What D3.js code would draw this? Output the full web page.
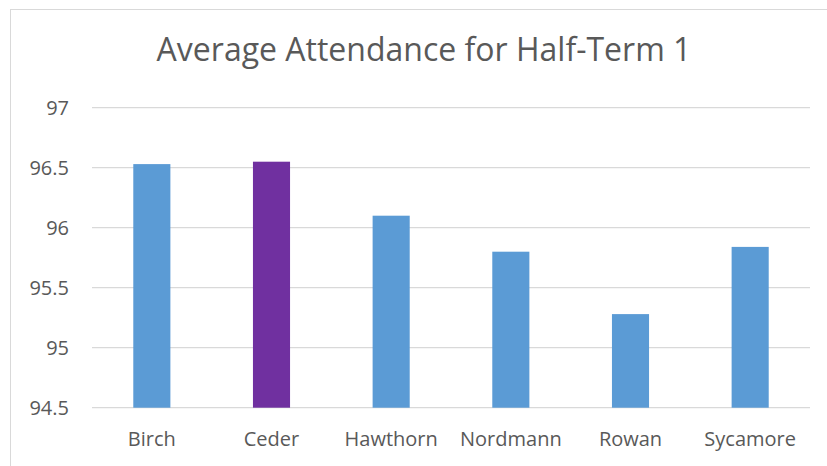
<!DOCTYPE html>
<html>
<head>
<meta charset="utf-8">
<script src="https://cdn.jsdelivr.net/npm/d3@7"></script>
<style>
  body { margin: 0; background: #fff; }
  text { font-family: "Open Sans", "Noto Sans", sans-serif; fill: #595959; }
</style>
</head>
<body>
<script>
// chart data
var categories = ["Birch", "Ceder", "Hawthorn", "Nordmann", "Rowan", "Sycamore"];
var attendance = [96.53, 96.55, 96.1, 95.8, 95.28, 95.84];
var highlighted = ["Ceder"];
var yTicks = [94.5, 95, 95.5, 96, 96.5, 97];
var title = "Average Attendance for Half-Term 1";

var width = 827,
    height = 466;

var svg = d3.select("body").append("svg")
    .attr("width", width)
    .attr("height", height)
    .style("display", "block");

// chart frame, runs off the right and bottom edge
svg.append("rect")
    .attr("x", 10.5)
    .attr("y", 9.5)
    .attr("width", 840)
    .attr("height", 480)
    .attr("fill", "#fff")
    .attr("stroke", "#d9d9d9")
    .attr("stroke-width", 1);

var plotLeft = 92, plotRight = 810, plotTop = 107.7, plotBottom = 407.7;

var x = d3.scaleBand()
    .domain(categories)
    .range([plotLeft, plotRight])
    .paddingInner(0.69)
    .paddingOuter(0.345);

var y = d3.scaleLinear()
    .domain([94.5, 97])
    .range([plotBottom, plotTop]);

svg.append("text")
    .attr("x", 424)
    .attr("y", 61)
    .attr("text-anchor", "middle")
    .style("font-size", "32px")
    .text(title);

// gridlines
svg.append("g")
    .selectAll("line")
    .data(yTicks)
    .enter().append("line")
    .attr("x1", plotLeft)
    .attr("x2", plotRight)
    .attr("y1", function(d) { return y(d); })
    .attr("y2", function(d) { return y(d); })
    .attr("stroke", "#d9d9d9")
    .attr("stroke-width", 1.3);

var rows = categories.map(function(c, i) { return {name: c, value: attendance[i]}; });

svg.append("g")
    .selectAll("rect")
    .data(rows)
    .enter().append("rect")
    .attr("x", function(d) { return x(d.name); })
    .attr("width", x.bandwidth())
    .attr("y", function(d) { return y(d.value); })
    .attr("height", function(d) { return y(94.5) - y(d.value); })
    .attr("fill", function(d) {
        return highlighted.indexOf(d.name) >= 0 ? "#7030a0" : "#5b9bd5";
    });

// y labels
var yAxis = svg.append("g")
    .attr("transform", "translate(69,0)")
    .call(d3.axisLeft(y).tickValues(yTicks).tickSize(0).tickPadding(0).tickFormat(d3.format("")));
yAxis.select(".domain").remove();
yAxis.attr("font-family", null).attr("font-size", null);
yAxis.selectAll("text")
    .style("font-size", "20px")
    .attr("fill", null);

// x labels
var xAxis = svg.append("g")
    .attr("transform", "translate(0," + plotBottom + ")")
    .call(d3.axisBottom(x).tickSize(0).tickPadding(0));
xAxis.select(".domain").remove();
xAxis.attr("font-family", null).attr("font-size", null);
xAxis.selectAll("text")
    .attr("dy", null)
    .attr("y", 38)
    .style("font-size", "20px")
    .attr("fill", null);
</script>
</body>
</html>
